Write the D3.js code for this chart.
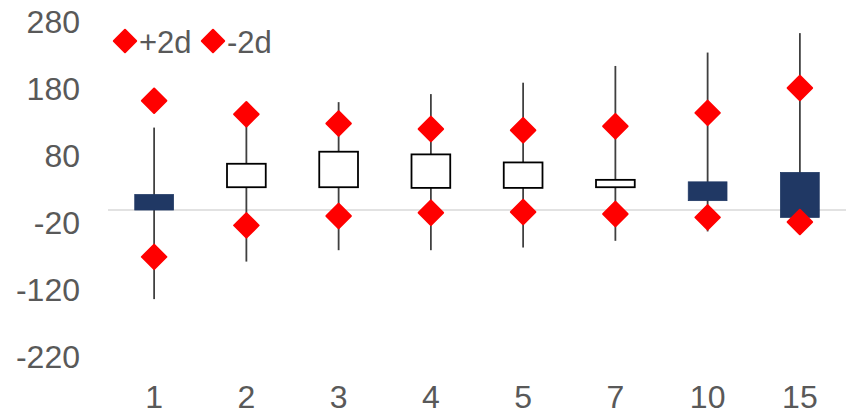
<!DOCTYPE html>
<html>
<head>
<meta charset="utf-8">
<script src="https://cdn.jsdelivr.net/npm/d3@7"></script>
<style>
  body { margin: 0; background: #fff; }
  svg text { font-family: "Liberation Sans", Arial, sans-serif; fill: #595959; }
</style>
</head>
<body>
<svg id="chart" width="853" height="414"></svg>
<script>
// chart values
const categories = ["1", "2", "3", "4", "5", "7", "10", "15"];
const openVals  = [23, 34, 34, 33, 33, 34, 42, 56];
const closeVals = [0, 69, 87, 83, 71, 45, 14, -11];
const highVals  = [123, 138, 161, 173, 190, 215, 235, 264];
const lowVals   = [-133, -77, -60, -60, -56, -46, -32, -20];
const plus2d    = [163, 143, 129, 121, 119, 125, 145, 182];
const minus2d   = [-70, -23, -9, -4, -3, -6, -11, -18];
const yTicks    = [-220, -120, -20, 80, 180, 280];
const legendLabels = ["+2d", "-2d"];

const navy = "#203864";
const red = "#ff0000";

const svg = d3.select("#chart");
const margin = { left: 108, right: 7, top: 22.4, bottom: 56.6 };
const width = 853, height = 414;

const x = d3.scaleBand()
  .domain(categories)
  .range([margin.left, width - margin.right])
  .padding(0);

const y = d3.scaleLinear()
  .domain([-220, 280])
  .range([height - margin.bottom, margin.top]);

const rows = categories.map((c, i) => ({
  cat: c,
  open: openVals[i],
  close: closeVals[i],
  high: highVals[i],
  low: lowVals[i],
  up: plus2d[i],
  down: minus2d[i]
}));

// zero line
svg.append("line")
  .attr("x1", x.range()[0]).attr("x2", x.range()[1])
  .attr("y1", y(0)).attr("y2", y(0))
  .attr("stroke", "#d9d9d9").attr("stroke-width", 1.5);

// y axis labels (plain hyphen, not the unicode minus)
const yAxis = svg.append("g")
  .attr("transform", `translate(${margin.left},0)`)
  .call(d3.axisLeft(y).tickValues(yTicks).tickFormat(d => String(d)).tickSize(0).tickPadding(28));
yAxis.select(".domain").remove();
yAxis.selectAll("text").attr("font-size", 32).attr("fill", "#595959");

// x axis labels
const xAxis = svg.append("g")
  .attr("transform", `translate(0,${y(-220)})`)
  .call(d3.axisBottom(x).tickSize(0).tickPadding(28));
xAxis.select(".domain").remove();
xAxis.selectAll("text").attr("font-size", 32).attr("fill", "#595959");

const cx = d => x(d.cat) + x.bandwidth() / 2;
const boxW = x.bandwidth() * 0.42;

// whiskers
svg.append("g").selectAll("line")
  .data(rows)
  .join("line")
  .attr("x1", cx).attr("x2", cx)
  .attr("y1", d => y(d.high)).attr("y2", d => y(d.low))
  .attr("stroke", "#404040").attr("stroke-width", 1.8);

// boxes: white when close above open, navy otherwise
svg.append("g").selectAll("rect")
  .data(rows)
  .join("rect")
  .attr("x", d => cx(d) - boxW / 2)
  .attr("width", boxW)
  .attr("y", d => y(Math.max(d.open, d.close)))
  .attr("height", d => Math.abs(y(d.open) - y(d.close)))
  .attr("fill", d => d.close > d.open ? "#fff" : navy)
  .attr("stroke", d => d.close > d.open ? "#000" : navy)
  .attr("stroke-width", d => d.close > d.open ? 1.8 : 0.8);

// diamonds
const diamond = d3.symbol(d3.symbolSquare, 300);
function addDiamonds(key) {
  svg.append("g").selectAll("path")
    .data(rows)
    .join("path")
    .attr("d", diamond)
    .attr("transform", d => `translate(${cx(d)},${y(d[key])}) rotate(45)`)
    .attr("fill", red)
    .attr("stroke", red)
    .attr("stroke-width", 2)
    .attr("stroke-linejoin", "round");
}
addDiamonds("up");
addDiamonds("down");

// legend
const legend = svg.append("g");
const legendX = [125, 213];
legendLabels.forEach((lab, i) => {
  legend.append("path")
    .attr("d", d3.symbol(d3.symbolSquare, 250))
    .attr("transform", `translate(${legendX[i]},41) rotate(45)`)
    .attr("fill", red).attr("stroke", red)
    .attr("stroke-width", 2).attr("stroke-linejoin", "round");
  legend.append("text")
    .attr("x", legendX[i] + 14)
    .attr("y", 53)
    .attr("font-size", 31)
    .text(lab);
});
</script>
</body>
</html>
